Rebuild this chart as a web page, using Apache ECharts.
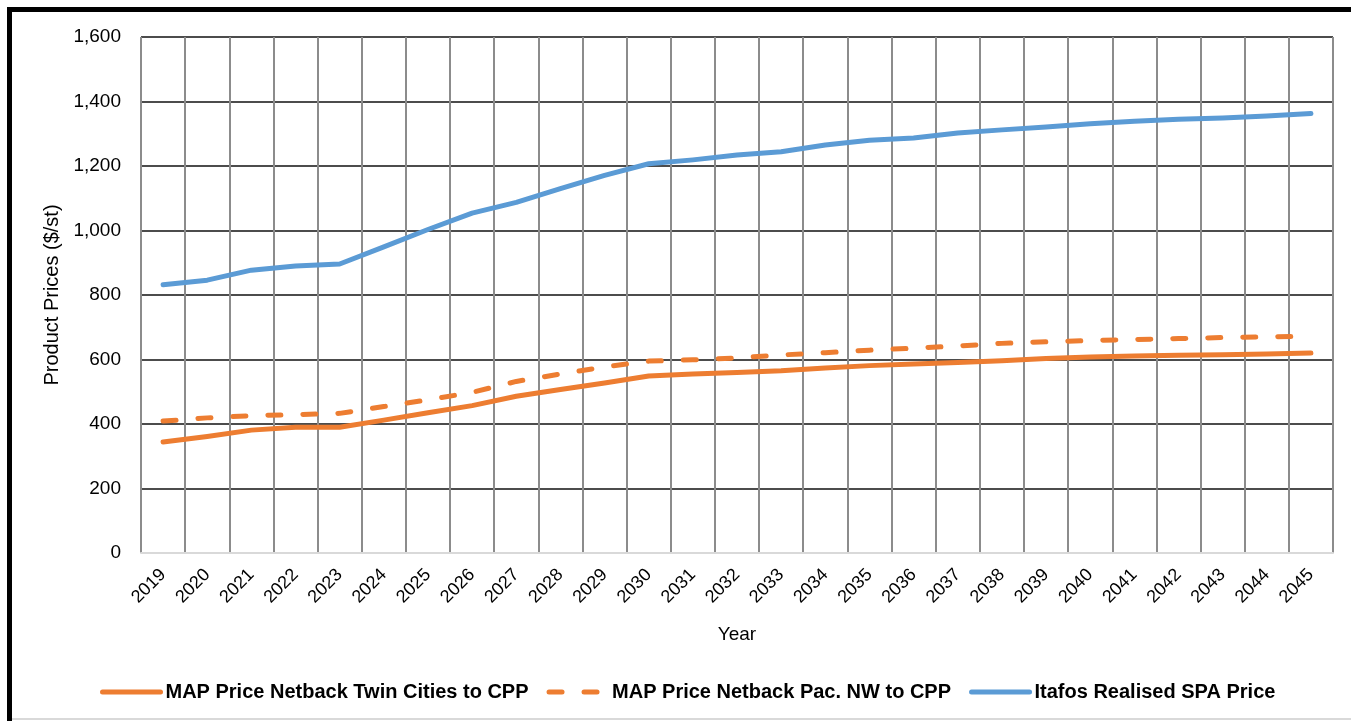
<!DOCTYPE html>
<html>
<head>
<meta charset="utf-8">
<script src="https://cdn.jsdelivr.net/npm/echarts@6/dist/echarts.min.js"></script>
<style>
  html, body { margin: 0; padding: 0; background: #fff; }
  #chart { width: 1351px; height: 721px; }
</style>
</head>
<body>
<div id="chart"></div>
<script>
// Forecast years on the category axis
const years = ['2019','2020','2021','2022','2023','2024','2025','2026','2027','2028','2029','2030','2031','2032','2033','2034','2035','2036','2037','2038','2039','2040','2041','2042','2043','2044','2045'];

// MAP price netback, Twin Cities to CPP ($/st)
const twinCities = [344, 361, 381, 390, 390, 412, 435, 457, 486, 507, 527, 549, 555, 560, 565, 574, 581, 586, 591, 596, 603, 608, 611, 613, 615, 617, 620];

// MAP price netback, Pacific North West to CPP ($/st)
const pacNW = [409, 419, 426, 429, 433, 454, 475, 498, 532, 555, 577, 595, 599, 605, 614, 621, 629, 635, 642, 650, 655, 659, 662, 665, 668, 670, 672];

// Itafos realised SPA price ($/st)
const itafos = [832, 846, 877, 890, 896, 949, 1003, 1054, 1087, 1130, 1171, 1207, 1219, 1234, 1244, 1265, 1280, 1287, 1302, 1312, 1321, 1331, 1339, 1345, 1349, 1355, 1363];

// Value axis ticks
const yMin = 0, yMax = 1600, yStep = 200;

const ORANGE = '#ED7D31';
const BLUE = '#5B9BD5';
const FONT = '"Liberation Sans", Arial, sans-serif';

const chart = echarts.init(document.getElementById('chart'), null, { renderer: 'canvas' });

chart.setOption({
  animation: false,
  backgroundColor: '#ffffff',
  textStyle: { fontFamily: FONT },
  graphic: [
    // page frame: heavy left and top rules, faint bottom rule
    { type: 'rect', shape: { x: 7, y: 7, width: 5, height: 714 }, style: { fill: '#000' }, silent: true },
    { type: 'rect', shape: { x: 7, y: 7, width: 1344, height: 5 }, style: { fill: '#000' }, silent: true },
    { type: 'rect', shape: { x: 12, y: 718, width: 1339, height: 2 }, style: { fill: '#d9d9d9' }, silent: true }
  ],
  grid: { left: 141, right: 18, top: 37, bottom: 168, containLabel: false },
  legend: {
    left: 95,
    top: 677,
    itemWidth: 58,
    itemHeight: 6,
    itemGap: 18,
    itemStyle: { opacity: 0 },
    lineStyle: { width: 5, cap: 'round' },
    textStyle: { fontSize: 20, fontWeight: 'bold', color: '#000', fontFamily: FONT },
    data: [
      { name: 'MAP Price Netback Twin Cities to CPP' },
      { name: 'MAP Price Netback Pac. NW to CPP' },
      { name: 'Itafos Realised SPA Price' }
    ]
  },
  xAxis: {
    type: 'category',
    data: years,
    boundaryGap: true,
    name: 'Year',
    nameLocation: 'middle',
    nameGap: 72,
    nameTextStyle: { fontSize: 19, color: '#000' },
    axisLine: { show: true, lineStyle: { color: '#d9d9d9', width: 2 } },
    axisTick: { show: false },
    axisLabel: { rotate: 45, fontSize: 18, color: '#000', margin: 19, interval: 0 },
    splitLine: { show: true, interval: 0, lineStyle: { color: '#8c8c8c', width: 2 } }
  },
  yAxis: {
    type: 'value',
    min: yMin,
    max: yMax,
    interval: yStep,
    name: 'Product Prices ($/st)',
    nameLocation: 'middle',
    nameGap: 64,
    nameTextStyle: { fontSize: 20, color: '#000' },
    axisLine: { show: false },
    axisTick: { show: false },
    axisLabel: {
      fontSize: 19,
      color: '#000',
      margin: 20,
      formatter: v => v.toLocaleString('en-US')
    },
    splitLine: { show: true, lineStyle: { color: '#111', width: 1.5 } }
  },
  series: [
    {
      name: 'MAP Price Netback Twin Cities to CPP',
      type: 'line',
      data: twinCities,
      symbol: 'none',
      smooth: false,
      lineStyle: { color: ORANGE, width: 5, cap: 'round', join: 'round' },
      itemStyle: { color: ORANGE },
      z: 3
    },
    {
      name: 'MAP Price Netback Pac. NW to CPP',
      type: 'line',
      data: pacNW,
      symbol: 'none',
      lineStyle: { color: ORANGE, width: 5, type: [13, 22], cap: 'round', join: 'round' },
      itemStyle: { color: ORANGE },
      z: 3
    },
    {
      name: 'Itafos Realised SPA Price',
      type: 'line',
      data: itafos,
      symbol: 'none',
      lineStyle: { color: BLUE, width: 5, cap: 'round', join: 'round' },
      itemStyle: { color: BLUE },
      z: 3
    }
  ]
});
</script>
</body>
</html>
